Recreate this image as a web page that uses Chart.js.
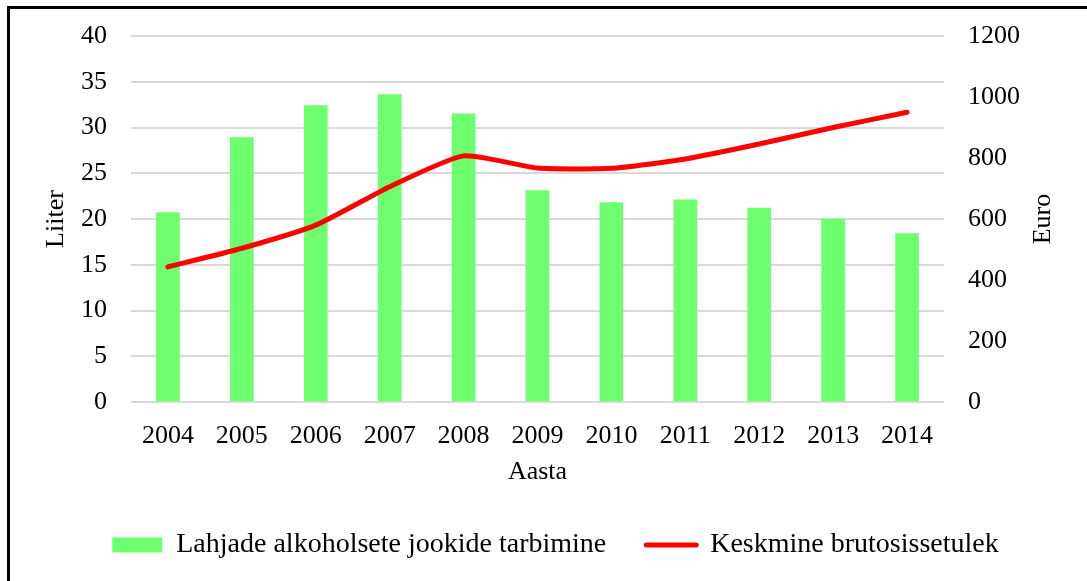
<!DOCTYPE html>
<html>
<head>
<meta charset="utf-8">
<script src="https://cdn.jsdelivr.net/npm/chart.js@4.4.1/dist/chart.umd.min.js"></script>
<style>
  html, body { margin: 0; padding: 0; background: #fff; }
  #wrap { position: relative; width: 1087px; height: 581px; }
  #frame {
    position: absolute; left: 7px; top: 6px; right: 0; bottom: 0;
    border-left: 3px solid #000; border-top: 3px solid #000;
    pointer-events: none;
  }
</style>
</head>
<body>
<div id="wrap">
  <canvas id="myChart" width="1087" height="581"></canvas>
  <div id="frame"></div>
</div>
<script>
// values
const years = ['2004', '2005', '2006', '2007', '2008', '2009', '2010', '2011', '2012', '2013', '2014'];
const consumption = [20.7, 28.9, 32.4, 33.6, 31.5, 23.1, 21.8, 22.1, 21.2, 20.0, 18.4];
const grossIncome = [443, 504, 580, 706, 807, 767, 766, 797, 846, 900, 950];

const serif = 'Liberation Serif, Times New Roman, serif';
const gridColor = '#d9d9d9';
const tickFont = { family: serif, size: 26 };

// right axis title reads bottom-to-top like the left one, so draw it here
const rightTitle = {
  id: 'rightTitle',
  afterDraw(chart) {
    const { ctx, chartArea } = chart;
    ctx.save();
    ctx.translate(1043, (chartArea.top + chartArea.bottom) / 2);
    ctx.rotate(-Math.PI / 2);
    ctx.font = '26px ' + serif;
    ctx.fillStyle = '#000';
    ctx.textAlign = 'center';
    ctx.textBaseline = 'middle';
    ctx.fillText('Euro', 0, 0);
    ctx.restore();
  }
};

// nudge legend a bit right, like in the original
const legendShift = {
  id: 'legendShift',
  afterLayout(chart) {
    chart.legend.left += 12;
    chart.legend.right += 12;
  }
};

const ctx = document.getElementById('myChart').getContext('2d');

new Chart(ctx, {
  type: 'bar',
  data: {
    labels: years,
    datasets: [
      {
        type: 'bar',
        label: 'Lahjade alkoholsete jookide tarbimine',
        data: consumption,
        backgroundColor: '#6dff6d',
        borderWidth: 0,
        barThickness: 23,
        yAxisID: 'y',
        order: 2
      },
      {
        type: 'line',
        label: 'Keskmine brutosissetulek',
        data: grossIncome,
        borderColor: '#ff0000',
        backgroundColor: '#ff0000',
        borderWidth: 5,
        borderCapStyle: 'round',
        borderJoinStyle: 'round',
        pointRadius: 0,
        tension: 0.18,
        yAxisID: 'y1',
        order: 1
      }
    ]
  },
  plugins: [rightTitle, legendShift],
  options: {
    responsive: false,
    animation: false,
    layout: {
      padding: { top: 36, left: 0, right: 0, bottom: 12 }
    },
    plugins: {
      tooltip: { enabled: false },
      legend: {
        position: 'bottom',
        labels: {
          usePointStyle: true,
          pointStyleWidth: 50,
          boxHeight: 15,
          padding: 40,
          color: '#000',
          font: { family: serif, size: 28 },
          sort: (a, b) => a.datasetIndex - b.datasetIndex,
          generateLabels: (chart) => {
            const items = Chart.defaults.plugins.legend.labels.generateLabels(chart);
            items.forEach(item => {
              if (item.datasetIndex === 0) {
                item.pointStyle = 'rect';
                item.lineWidth = 0;
                item.strokeStyle = 'rgba(0,0,0,0)';
              } else {
                item.pointStyle = 'line';
                item.lineWidth = 5;
                item.lineCap = 'round';
              }
            });
            return items;
          }
        }
      }
    },
    scales: {
      x: {
        offset: true,
        grid: { display: false, drawTicks: false },
        border: { display: false },
        ticks: {
          color: '#000',
          padding: 19,
          maxRotation: 0,
          font: tickFont
        },
        title: {
          display: true,
          text: 'Aasta',
          color: '#000',
          font: tickFont,
          padding: { top: 0, bottom: 3 }
        },
        afterFit: (scale) => { scale.height = 89; }
      },
      y: {
        position: 'left',
        min: 0,
        max: 40,
        grid: { color: gridColor, lineWidth: 2, drawTicks: false },
        border: { display: false },
        ticks: {
          stepSize: 5,
          color: '#000',
          padding: 24,
          font: tickFont
        },
        title: {
          display: true,
          text: 'Liiter',
          color: '#000',
          font: tickFont,
          padding: { top: 41, bottom: 0 }
        },
        afterFit: (scale) => { scale.width = 131; scale.paddingTop = 0; }
      },
      y1: {
        position: 'right',
        min: 0,
        max: 1200,
        grid: { display: false, drawTicks: false },
        border: { display: false },
        ticks: {
          stepSize: 200,
          color: '#000',
          padding: 24,
          font: tickFont,
          callback: (v) => String(v)
        },
        title: { display: false },
        afterFit: (scale) => { scale.width = 143; scale.paddingTop = 0; }
      }
    }
  }
});
</script>
</body>
</html>
